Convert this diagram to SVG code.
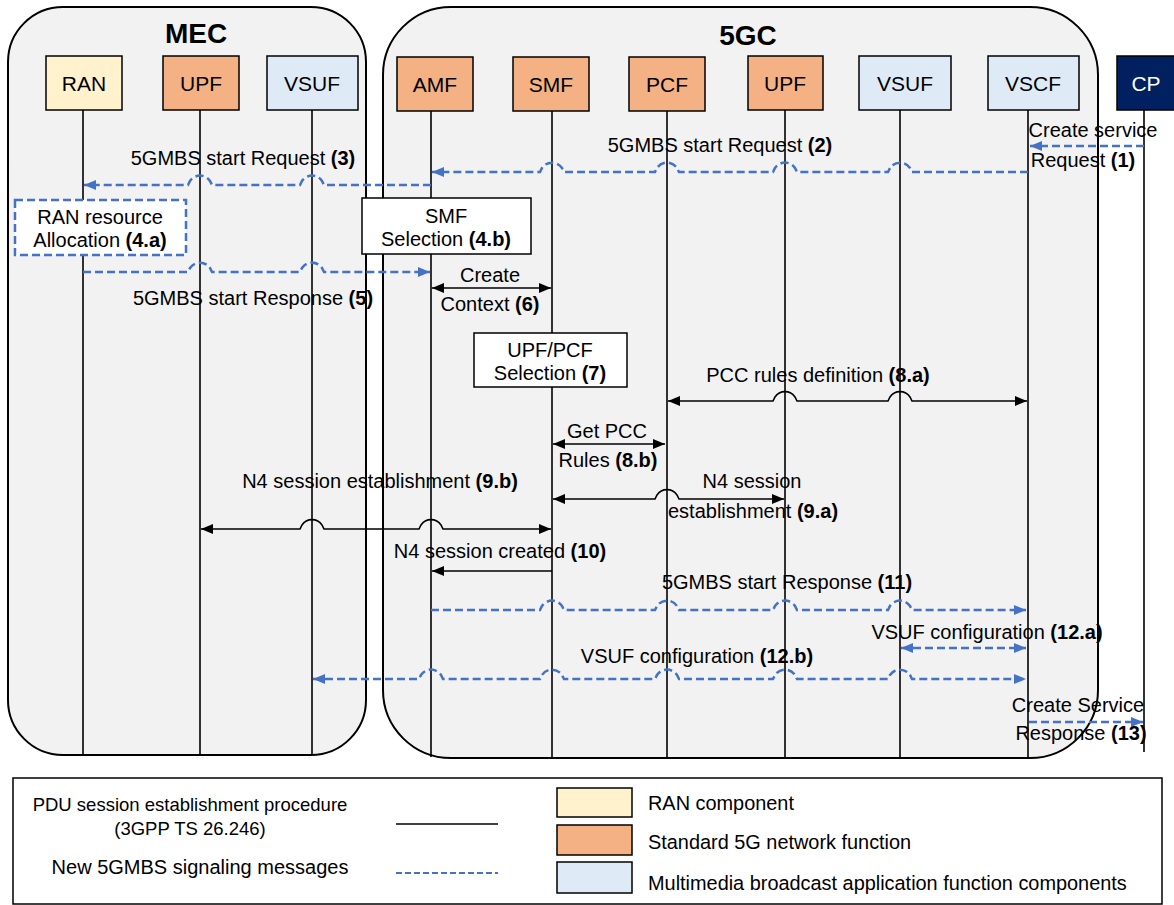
<svg xmlns="http://www.w3.org/2000/svg" width="1174" height="905" viewBox="0 0 1174 905">
<style>
text{font-family:"Liberation Sans",Arial,sans-serif;font-size:20px;fill:#000}
.b{font-weight:bold}
.c{text-anchor:middle}
.nl{font-size:21px}
.cont{fill:#F2F2F2;stroke:#000;stroke-width:2}
.box{stroke:#000;stroke-width:1.5}
.ran{fill:#FFF2CC}
.nf{fill:#F4B183}
.mb{fill:#DEEBF7}
.life{stroke:#000;stroke-width:1.6;fill:none}
.sol{stroke:#000;stroke-width:1.6;fill:none}
.dsh{stroke:#4472C4;stroke-width:2.5;stroke-dasharray:8 4;fill:none}
.sb{fill:#fff;stroke:#000;stroke-width:1.5}
.db{fill:#fff;stroke:#4472C4;stroke-width:2.5;stroke-dasharray:8 4}
.lg{font-size:18.5px}
.lr{font-size:19.9px}
</style>
<defs>
<marker id="ak" viewBox="0 0 12 10" refX="12" refY="5" markerWidth="12" markerHeight="10" markerUnits="userSpaceOnUse" orient="auto-start-reverse"><path d="M0,0 L12,5 L0,10 Z" fill="#000"/></marker>
<marker id="ab" viewBox="0 0 12 10" refX="12" refY="5" markerWidth="12" markerHeight="10" markerUnits="userSpaceOnUse" orient="auto-start-reverse"><path d="M0,0 L12,5 L0,10 Z" fill="#4472C4"/></marker>
</defs>

<g id="mec">
<rect class="cont" x="8" y="7" width="358" height="748" rx="55"/>
<text class="b c" x="196" y="43" style="font-size:28px">MEC</text>
</g>
<g id="fivegc">
<rect class="cont" x="383" y="7" width="715" height="751" rx="68"/>
<text class="b c" x="748" y="45" style="font-size:28px">5GC</text>
</g>

<g id="lifelines">
<line class="life" x1="83" y1="110" x2="83" y2="755"/>
<line class="life" x1="200" y1="110" x2="200" y2="755"/>
<line class="life" x1="312" y1="110" x2="312" y2="755"/>
<line class="life" x1="431" y1="110" x2="431" y2="757"/>
<line class="life" x1="552" y1="110" x2="552" y2="757"/>
<line class="life" x1="667" y1="110" x2="667" y2="757"/>
<line class="life" x1="785" y1="110" x2="785" y2="757"/>
<line class="life" x1="900" y1="110" x2="900" y2="757"/>
<line class="life" x1="1028" y1="110" x2="1028" y2="757"/>
<line class="life" x1="1144" y1="110" x2="1144" y2="752"/>
</g>

<g id="n-ran"><rect class="box ran" x="46" y="56" width="76" height="54"/><text class="c nl" x="84" y="91">RAN</text></g>
<g id="n-upf-mec"><rect class="box nf" x="163" y="56" width="76" height="54"/><text class="c nl" x="201" y="91">UPF</text></g>
<g id="n-vsuf-mec"><rect class="box mb" x="267" y="56" width="91" height="54"/><text class="c nl" x="312" y="91">VSUF</text></g>
<g id="n-amf"><rect class="box nf" x="397" y="57" width="76" height="54"/><text class="c nl" x="435" y="92">AMF</text></g>
<g id="n-smf"><rect class="box nf" x="513" y="57" width="76" height="54"/><text class="c nl" x="551" y="92">SMF</text></g>
<g id="n-pcf"><rect class="box nf" x="629" y="57" width="76" height="54"/><text class="c nl" x="667" y="92">PCF</text></g>
<g id="n-upf"><rect class="box nf" x="748" y="56" width="75" height="54"/><text class="c nl" x="785" y="91">UPF</text></g>
<g id="n-vsuf"><rect class="box mb" x="859" y="56" width="92" height="54"/><text class="c nl" x="905" y="91">VSUF</text></g>
<g id="n-vscf"><rect class="box mb" x="988" y="56" width="91" height="54"/><text class="c nl" x="1033" y="91">VSCF</text></g>
<g id="n-cp"><rect class="box" fill="#002060" x="1117" y="56" width="60" height="54"/><text class="c nl" x="1146" y="91" style="fill:#fff">CP</text></g>

<g id="p-ran-alloc"><rect class="db" x="15" y="200" width="171" height="55"/><text class="c" x="100" y="224">RAN resource</text><text class="c" x="100" y="247">Allocation <tspan class="b">(4.a)</tspan></text></g>
<g id="p-smf-sel"><rect class="sb" x="362" y="198" width="169" height="56"/><text class="c" x="446" y="223">SMF</text><text class="c" x="446" y="246">Selection <tspan class="b">(4.b)</tspan></text></g>
<g id="p-upfpcf-sel"><rect class="sb" x="474" y="333" width="153" height="54"/><text class="c" x="550" y="357">UPF/PCF</text><text class="c" x="550" y="380">Selection <tspan class="b">(7)</tspan></text></g>

<g id="connectors">
<path class="dsh" d="M1144,146 L1030,146" marker-end="url(#ab)"/>
<path class="dsh" d="M1028,172 L912,172 L910,168 A12,12 0 0 0 890,168 L888,172 L797,172 L795,168 A12,12 0 0 0 775,168 L773,172 L679,172 L677,168 A12,12 0 0 0 657,168 L655,172 L564,172 L562,168 A12,12 0 0 0 542,168 L540,172 L432,172" marker-end="url(#ab)"/>
<path class="dsh" d="M431,185 L324,185 L322,181 A12,12 0 0 0 302,181 L300,185 L212,185 L210,181 A12,12 0 0 0 190,181 L188,185 L84,185" marker-end="url(#ab)"/>
<path class="dsh" d="M83,272 L188,272 L190,268 A12,12 0 0 1 210,268 L212,272 L300,272 L302,268 A12,12 0 0 1 322,268 L324,272 L430,272" marker-end="url(#ab)"/>
<path class="sol" d="M432,288 L551,288" marker-start="url(#ak)" marker-end="url(#ak)"/>
<path class="sol" d="M668,401 L773,401 L775,397 A12,12 0 0 1 795,397 L797,401 L888,401 L890,397 A12,12 0 0 1 910,397 L912,401 L1027,401" marker-start="url(#ak)" marker-end="url(#ak)"/>
<path class="sol" d="M553,444 L665,444" marker-start="url(#ak)" marker-end="url(#ak)"/>
<path class="sol" d="M553,499 L655,499 L657,495 A12,12 0 0 1 677,495 L679,499 L784,499" marker-start="url(#ak)" marker-end="url(#ak)"/>
<path class="sol" d="M201,529 L300,529 L302,525 A12,12 0 0 1 322,525 L324,529 L419,529 L421,525 A12,12 0 0 1 441,525 L443,529 L551,529" marker-start="url(#ak)" marker-end="url(#ak)"/>
<path class="sol" d="M552,571 L432,571" marker-end="url(#ak)"/>
<path class="dsh" d="M431,610 L540,610 L542,606 A12,12 0 0 1 562,606 L564,610 L655,610 L657,606 A12,12 0 0 1 677,606 L679,610 L773,610 L775,606 A12,12 0 0 1 795,606 L797,610 L888,610 L890,606 A12,12 0 0 1 910,606 L912,610 L1026,610" marker-end="url(#ab)"/>
<path class="dsh" d="M901,648 L1026,648" marker-start="url(#ab)" marker-end="url(#ab)"/>
<path class="dsh" d="M313,679 L419,679 L421,675 A12,12 0 0 1 441,675 L443,679 L540,679 L542,675 A12,12 0 0 1 562,675 L564,679 L655,679 L657,675 A12,12 0 0 1 677,675 L679,679 L773,679 L775,675 A12,12 0 0 1 795,675 L797,679 L888,679 L890,675 A12,12 0 0 1 910,675 L912,679 L1026,679" marker-start="url(#ab)" marker-end="url(#ab)"/>
<path class="dsh" d="M1029,722 L1143,722" marker-end="url(#ab)"/>
</g>

<g id="labels">
<text class="c" x="1093" y="137">Create service</text>
<text class="c" x="1083" y="167">Request <tspan class="b">(1)</tspan></text>
<text class="c" x="720" y="152">5GMBS start Request <tspan class="b">(2)</tspan></text>
<text class="c" x="243" y="165">5GMBS start Request <tspan class="b">(3)</tspan></text>
<text class="c" x="253" y="305">5GMBS start Response <tspan class="b">(5)</tspan></text>
<text class="c" x="490" y="282">Create</text>
<text class="c" x="490" y="311">Context <tspan class="b">(6)</tspan></text>
<text class="c" x="818" y="382">PCC rules definition <tspan class="b">(8.a)</tspan></text>
<text class="c" x="607" y="438">Get PCC</text>
<text class="c" x="608" y="467">Rules <tspan class="b">(8.b)</tspan></text>
<text class="c" x="380" y="488">N4 session establishment <tspan class="b">(9.b)</tspan></text>
<text class="c" x="752" y="488">N4 session</text>
<text class="c" x="753" y="518">establishment <tspan class="b">(9.a)</tspan></text>
<text class="c" x="500" y="558">N4 session created <tspan class="b">(10)</tspan></text>
<text class="c" x="787" y="589">5GMBS start Response <tspan class="b">(11)</tspan></text>
<text class="c" x="987" y="639">VSUF configuration <tspan class="b">(12.a)</tspan></text>
<text class="c" x="697" y="663">VSUF configuration <tspan class="b">(12.b)</tspan></text>
<text class="c" x="1078" y="712">Create Service</text>
<text class="c" x="1081" y="740">Response <tspan class="b">(13)</tspan></text>
</g>

<g id="legend">
<rect x="13" y="778" width="1149" height="126" fill="#fff" stroke="#000" stroke-width="1.5"/>
<text class="c lg" x="190" y="811">PDU session establishment procedure</text>
<text class="c lg" x="190" y="835">(3GPP TS 26.246)</text>
<line x1="396" y1="824" x2="498" y2="824" stroke="#000" stroke-width="1.6"/>
<text class="c" x="200" y="874">New 5GMBS signaling messages</text>
<line x1="396" y1="873" x2="498" y2="873" class="dsh" style="stroke-width:2;stroke-dasharray:6 3"/>
<rect class="box ran" x="557" y="788" width="75" height="29"/>
<text class="lr" x="648" y="810">RAN component</text>
<rect class="box nf" x="557" y="825" width="75" height="30"/>
<text class="lr" x="648" y="849">Standard 5G network function</text>
<rect class="box mb" x="557" y="862" width="75" height="31"/>
<text class="lr" x="648" y="890">Multimedia broadcast application function components</text>
</g>
</svg>
